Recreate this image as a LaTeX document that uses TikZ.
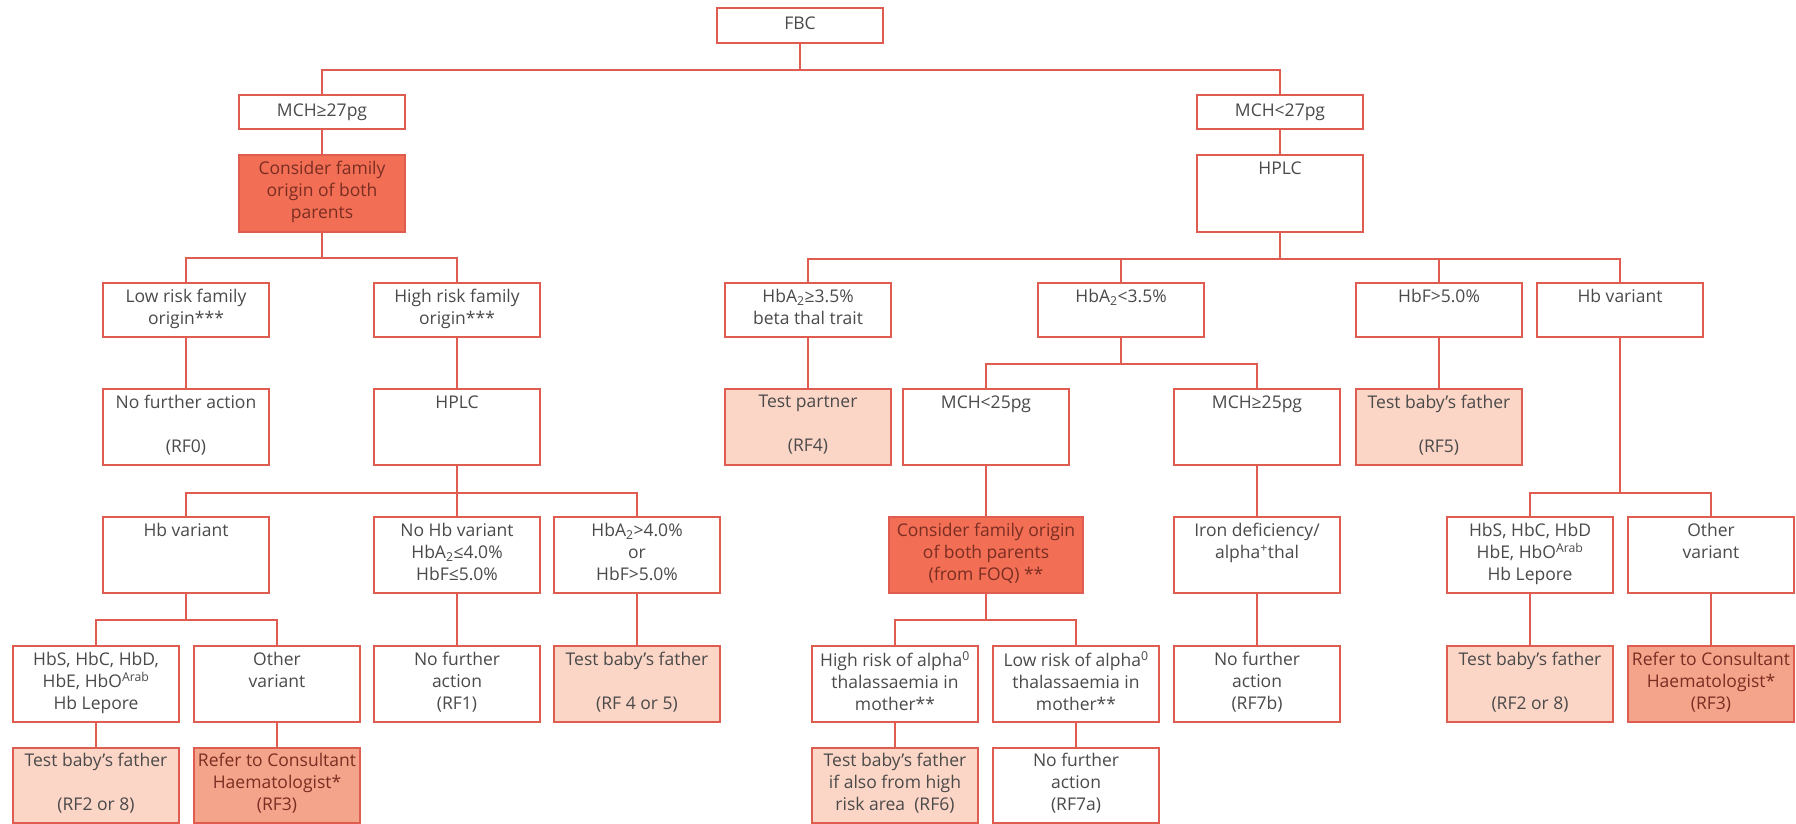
\documentclass[tikz,border=0pt]{standalone}
\usepackage{fontspec}
\setmainfont{Open Sans}
\usepackage{tikz,amsmath,amssymb}
\definecolor{edge}{HTML}{DE5C50}
\definecolor{darkfill}{HTML}{F26E55}
\definecolor{midfill}{HTML}{F5A48C}
\definecolor{lightfill}{HTML}{FBD5C6}
\definecolor{ink}{HTML}{4A4A4A}
\definecolor{darkink}{HTML}{7A2E22}

\begin{document}
\begin{tikzpicture}[x=1pt,y=-1pt]
 \tikzstyle{box}=[rectangle, draw=edge, line width=1.6pt, fill=white, text=ink, align=center,
   minimum width=166pt, inner sep=0pt, font=\fontsize{17.5}{22}\selectfont,
   execute at begin node=\strut, execute at end node=\strut]
 \tikzstyle{boxdark}=[box, fill=darkfill, text=darkink]
 \tikzstyle{boxmid}=[box, fill=midfill, text=darkink]
 \tikzstyle{boxlight}=[box, fill=lightfill]
 \tikzstyle{branch}=[draw=edge, line width=1.6pt]
 \useasboundingbox (0,0) rectangle (1796,824);
 %
 \node[box, minimum height=35pt] (FBC) at (800, 25.5) {FBC};
 %
 \node[box, minimum height=34pt] (MCHge27) at (322, 112) {MCH≥27pg};
 \node[box, minimum height=34pt] (MCHlt27) at (1280, 112) {MCH<27pg};
 %
 \node[boxdark, minimum height=77pt] (ConsA) at (322, 193.5) {Consider family\\origin of both\\parents};
 \node[box, minimum height=77pt] (HPLCa) at (1280, 193.5) {HPLC\\\strut\\};
 %
 \node[box, minimum height=54pt] (LowRisk) at (186, 310) {Low risk family\\origin***};
 \node[box, minimum height=54pt] (HighRisk) at (457, 310) {High risk family\\origin***};
 \node[box, minimum height=54pt] (HbAge) at (808, 310) {HbA\textsubscript{2}≥3.5\%\\beta thal trait};
 \node[box, minimum height=54pt] (HbAlt) at (1121, 310) {HbA\textsubscript{2}<3.5\%\\};
 \node[box, minimum height=54pt] (HbFgt) at (1439, 310) {HbF>5.0\%\\};
 \node[box, minimum height=54pt] (VarR) at (1620, 310) {Hb variant\\};
 %
 \node[box, minimum height=76pt] (RF0) at (186, 427) {No further action\\\strut\\(RF0)};
 \node[box, minimum height=76pt] (HPLCb) at (457, 427) {HPLC\\\strut\\};
 \node[boxlight, minimum height=76pt] (Partner) at (808, 427) {Test partner\\\strut\\(RF4)};
 \node[box, minimum height=76pt] (MCHlt25) at (986, 427) {MCH<25pg\\\strut\\};
 \node[box, minimum height=76pt] (MCHge25) at (1257, 427) {MCH≥25pg\\\strut\\};
 \node[boxlight, minimum height=76pt] (RF5) at (1439, 427) {Test baby’s father\\\strut\\(RF5)};
 %
 \node[box, minimum height=76pt] (VarL) at (186, 555) {Hb variant\\\strut\\};
 \node[box, minimum height=76pt] (NoVar) at (457, 555) {No Hb variant\\HbA\textsubscript{2}≤4.0\%\\HbF≤5.0\%};
 \node[box, minimum height=76pt] (HbAgt) at (637, 555) {HbA\textsubscript{2}>4.0\%\\or\\HbF>5.0\%};
 \node[boxdark, minimum height=76pt, minimum width=194pt] (ConsB) at (986, 555) {Consider family origin\\of both parents\\(from FOQ) **};
 \node[box, minimum height=76pt] (IronDef) at (1257, 555) {Iron deficiency/\\alpha\textsuperscript{+}thal\\};
 \node[box, minimum height=76pt] (HbSR) at (1530, 555) {HbS, HbC, HbD\\HbE, HbO\textsuperscript{Arab}\\Hb Lepore};
 \node[box, minimum height=76pt] (OtherR) at (1711, 555) {Other\\variant\\};
 %
 \node[box, minimum height=76pt] (HbSL) at (96, 684) {HbS, HbC, HbD,\\HbE, HbO\textsuperscript{Arab}\\Hb Lepore};
 \node[box, minimum height=76pt] (OtherL) at (277, 684) {Other\\variant\\};
 \node[box, minimum height=76pt] (RF1) at (457, 684) {No further\\action\\(RF1)};
 \node[boxlight, minimum height=76pt] (RF45) at (637, 684) {Test baby’s father\\\strut\\(RF 4 or 5)};
 \node[box, minimum height=76pt] (HighAlpha) at (895, 684) {High risk of alpha\textsuperscript{0}\\thalassaemia in\\mother**};
 \node[box, minimum height=76pt] (LowAlpha) at (1076, 684) {Low risk of alpha\textsuperscript{0}\\thalassaemia in\\mother**};
 \node[box, minimum height=76pt] (RF7b) at (1257, 684) {No further\\action\\(RF7b)};
 \node[boxlight, minimum height=76pt] (TestR) at (1530, 684) {Test baby’s father\\\strut\\(RF2 or 8)};
 \node[boxmid, minimum height=76pt] (ReferR) at (1711, 684) {Refer to Consultant\\Haematologist*\\(RF3)};
 %
 \node[boxlight, minimum height=75pt] (TestL) at (96, 785.5) {Test baby’s father\\\strut\\(RF2 or 8)};
 \node[boxmid, minimum height=75pt] (ReferL) at (277, 785.5) {Refer to Consultant\\Haematologist*\\(RF3)};
 \node[boxlight, minimum height=75pt] (RF6) at (895, 785.5) {Test baby’s father\\if also from high\\risk area~~(RF6)};
 \node[box, minimum height=75pt] (RF7a) at (1076, 785.5) {No further\\action\\(RF7a)};
 %%
 \draw[branch] (FBC.south) -- ++(0,26) -| (MCHge27.north);
 \draw[branch] (FBC.south) -- ++(0,26) -| (MCHlt27.north);
 \draw[branch] (MCHge27) -- (ConsA);
 \draw[branch] (MCHlt27) -- (HPLCa);
 \draw[branch] (ConsA.south) -- ++(0,25) -| (LowRisk.north);
 \draw[branch] (ConsA.south) -- ++(0,25) -| (HighRisk.north);
 \draw[branch] (HPLCa.south) -- ++(0,26) -| (HbAge.north);
 \draw[branch] (HPLCa.south) -- ++(0,26) -| (HbAlt.north);
 \draw[branch] (HPLCa.south) -- ++(0,26) -| (HbFgt.north);
 \draw[branch] (HPLCa.south) -- ++(0,26) -| (VarR.north);
 \draw[branch] (LowRisk) -- (RF0);
 \draw[branch] (HighRisk) -- (HPLCb);
 \draw[branch] (HbAge) -- (Partner);
 \draw[branch] (HbAlt.south) -- ++(0,26) -| (MCHlt25.north);
 \draw[branch] (HbAlt.south) -- ++(0,26) -| (MCHge25.north);
 \draw[branch] (HbFgt) -- (RF5);
 \draw[branch] (HPLCb.south) -- ++(0,27) -| (VarL.north);
 \draw[branch] (HPLCb.south) -- ++(0,27) -| (NoVar.north);
 \draw[branch] (HPLCb.south) -- ++(0,27) -| (HbAgt.north);
 \draw[branch] (MCHlt25) -- (ConsB);
 \draw[branch] (MCHge25) -- (IronDef);
 \draw[branch] (VarR.south) -- ++(0,155) -| (HbSR.north);
 \draw[branch] (VarR.south) -- ++(0,155) -| (OtherR.north);
 \draw[branch] (VarL.south) -- ++(0,26) -| (HbSL.north);
 \draw[branch] (VarL.south) -- ++(0,26) -| (OtherL.north);
 \draw[branch] (NoVar) -- (RF1);
 \draw[branch] (HbAgt) -- (RF45);
 \draw[branch] (ConsB.south) -- ++(0,26) -| (HighAlpha.north);
 \draw[branch] (ConsB.south) -- ++(0,26) -| (LowAlpha.north);
 \draw[branch] (IronDef) -- (RF7b);
 \draw[branch] (HbSR) -- (TestR);
 \draw[branch] (OtherR) -- (ReferR);
 \draw[branch] (HbSL) -- (TestL);
 \draw[branch] (OtherL) -- (ReferL);
 \draw[branch] (HighAlpha) -- (RF6);
 \draw[branch] (LowAlpha) -- (RF7a);
\end{tikzpicture}
\end{document}
